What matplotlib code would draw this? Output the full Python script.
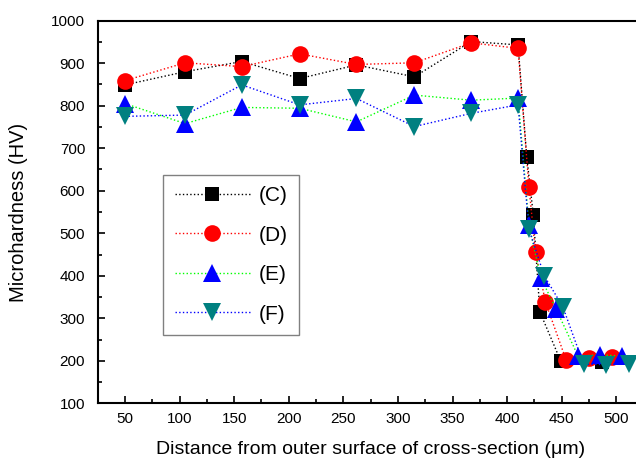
import matplotlib
matplotlib.use("Agg")
import matplotlib.pyplot as plt
from matplotlib.ticker import MultipleLocator

plt.rcParams['font.family'] = ['Liberation Sans', 'DejaVu Sans']

# distance (um) and microhardness (HV)
x_c = [50, 105, 157, 210, 262, 315, 367, 410, 418, 424, 430, 449, 487]
hv_c = [849, 880, 904, 864, 896, 868, 951, 943, 679, 543, 315, 200, 198]

x_d = [50, 105, 157, 210, 262, 315, 367, 410, 420, 426, 435, 454, 475, 496]
hv_d = [859, 901, 892, 922, 897, 901, 948, 935, 609, 455, 339, 202, 206, 208]

x_e = [50, 105, 157, 210, 262, 315, 367, 410, 420, 431, 445, 465, 485, 505]
hv_e = [805, 758, 796, 794, 762, 825, 813, 818, 519, 394, 321, 211, 214, 211]

x_f = [50, 105, 157, 210, 262, 315, 367, 410, 420, 434, 451, 470, 491, 512]
hv_f = [775, 778, 849, 802, 817, 751, 782, 802, 509, 400, 327, 192, 191, 193]

labels = ["(C)", "(D)", "(E)", "(F)"]


def main():
    fig = plt.figure(figsize=(6.36, 4.66), dpi=100)
    # right edge of the frame is cut off in the original, so let it run past the figure
    ax = fig.add_axes([97.7/636, 62.7/466, 545.9/636, 382.6/466])

    ax.plot(x_c, hv_c, ls=':', lw=1, color='black', marker='s', ms=10.5,
            mfc='black', mec='black', mew=0, label=labels[0])
    ax.plot(x_d, hv_d, ls=':', lw=1, color='red', marker='o', ms=12,
            mfc='red', mec='red', mew=0, label=labels[1])
    ax.plot(x_e, hv_e, ls=':', lw=1, color='#00ff00', marker='^', ms=13.5,
            mfc='blue', mec='blue', mew=0, label=labels[2])
    ax.plot(x_f, hv_f, ls=':', lw=1, color='blue', marker='v', ms=13.5,
            mfc='#008080', mec='#008080', mew=0, label=labels[3])

    ax.set_xlim(25, 525)
    ax.set_ylim(100, 1000)
    ax.xaxis.set_major_locator(MultipleLocator(50))
    ax.xaxis.set_minor_locator(MultipleLocator(25))
    ax.yaxis.set_major_locator(MultipleLocator(100))
    ax.yaxis.set_minor_locator(MultipleLocator(50))

    for s in ax.spines.values():
        s.set_linewidth(1.5)
    ax.spines['right'].set_visible(False)

    ax.tick_params(which='both', direction='in', width=1.2, top=False, right=False)
    ax.tick_params(which='major', length=5)
    ax.tick_params(which='minor', length=3)
    ax.tick_params(axis='x', which='major', labelsize=11, pad=6)
    ax.tick_params(axis='y', which='major', labelsize=11, pad=9)

    ax.set_xlabel("Distance from outer surface of cross-section (\u03bcm)", fontsize=14)
    ax.set_ylabel("Microhardness (HV)", fontsize=14.5)
    ax.xaxis.set_label_coords(0.5, -0.098)
    ax.yaxis.set_label_coords(-0.128, 0.5)

    leg = ax.legend(loc='upper left', bbox_to_anchor=(0.12, 0.597), borderaxespad=0,
                    fontsize=15, handlelength=3.6, handletextpad=0.45,
                    labelspacing=0.98, borderpad=0.55, fancybox=False,
                    edgecolor='#808080', framealpha=1)
    leg.get_frame().set_linewidth(1.0)

    fig.savefig("out.png", dpi=100)


if __name__ == "__main__":
    main()
